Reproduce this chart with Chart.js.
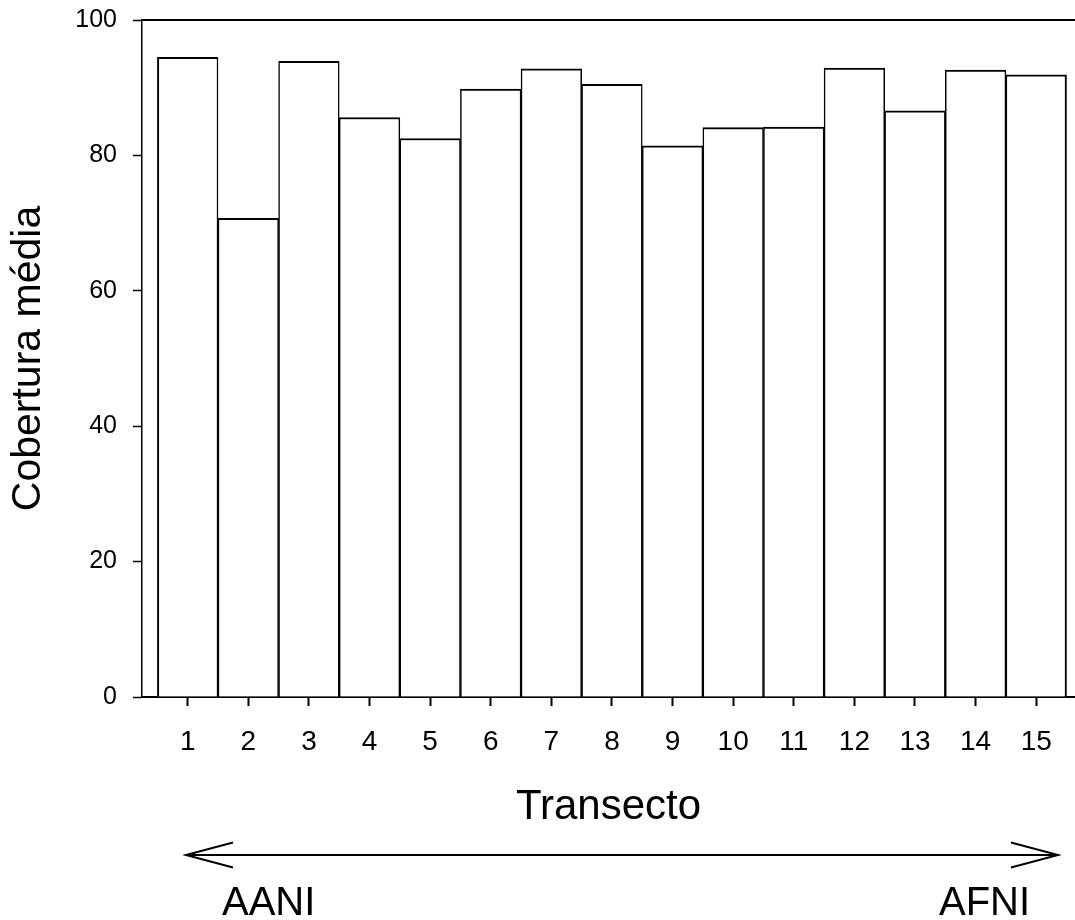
<!DOCTYPE html>
<html>
<head>
<meta charset="utf-8">
<script src="https://cdn.jsdelivr.net/npm/chart.js@4/dist/chart.umd.min.js"></script>
<style>
html,body{margin:0;padding:0;background:#fff;overflow:hidden;}
canvas{display:block;}
</style>
</head>
<body>
<canvas id="c" width="1075" height="920"></canvas>
<script>
// ---- data ----
const categories = [1, 2, 3, 4, 5, 6, 7, 8, 9, 10, 11, 12, 13, 14, 15];
const tickLabels = ['1','2','3','4','5','6','7','8','9','10','11','12','13','14','15'];
const coverValues = [94.5, 70.7, 93.9, 85.6, 82.5, 89.8, 92.8, 90.5, 81.4, 84.1, 84.2, 92.9, 86.6, 92.6, 91.9];
const yTickValues = [0, 20, 40, 60, 80, 100];
const xTitle = 'Transecto';
const yTitle = 'Cobertura média';
const gradientLabels = ['AANI', 'AFNI'];

const FONT = "'Liberation Sans', Arial, Helvetica, sans-serif";

const frameAndArrow = {
  id: 'frameAndArrow',
  afterDraw(chart) {
    const ctx = chart.ctx;
    const a = chart.chartArea;
    ctx.save();
    // top frame line
    ctx.strokeStyle = '#000';
    ctx.lineWidth = 2;
    ctx.beginPath();
    ctx.moveTo(a.left, a.top);
    ctx.lineTo(a.right, a.top);
    ctx.stroke();
    // gradient arrow
    const y = 855, x1 = 186, x2 = 1058, head = 47, hh = 12.5;
    ctx.lineWidth = 2;
    ctx.beginPath();
    ctx.moveTo(x1, y); ctx.lineTo(x2, y);
    ctx.moveTo(x1 + head, y - hh); ctx.lineTo(x1, y); ctx.lineTo(x1 + head, y + hh);
    ctx.moveTo(x2 - head, y - hh); ctx.lineTo(x2, y); ctx.lineTo(x2 - head, y + hh);
    ctx.stroke();
    ctx.fillStyle = '#000';
    ctx.font = '40px ' + FONT;
    ctx.textBaseline = 'alphabetic';
    ctx.textAlign = 'left';
    ctx.fillText(gradientLabels[0], 222, 915);
    ctx.fillText(gradientLabels[1], 939, 915);
    ctx.restore();
  }
};

new Chart(document.getElementById('c'), {
  type: 'bar',
  data: {
    datasets: [{
      data: categories.map((c, i) => ({ x: c, y: coverValues[i] })),
      backgroundColor: '#ffffff',
      borderColor: '#000000',
      borderWidth: (ctx) => ({
        top: 2,
        left: ctx.dataIndex === 0 ? 2 : 1.5,
        right: ctx.dataIndex === categories.length - 1 ? 2 : 1.5,
        bottom: 0
      }),
      borderSkipped: false,
      barPercentage: 1,
      categoryPercentage: 1
    }]
  },
  plugins: [frameAndArrow],
  options: {
    responsive: false,
    animation: false,
    devicePixelRatio: 1,
    layout: { padding: { left: 0, right: 0, top: 20, bottom: 87 } },
    plugins: { legend: { display: false }, tooltip: { enabled: false } },
    scales: {
      x: {
        type: 'linear',
        position: 'bottom',
        offset: false,
        min: 0.246,
        max: 15.64,
        z: 1,
        afterBuildTicks: (s) => { s.ticks = categories.map(v => ({ value: v })); },
        afterFit: (s) => { s.height = 136; s.paddingLeft = 0; s.paddingRight = 0; },
        ticks: {
          autoSkip: false,
          maxRotation: 0,
          padding: 19,
          color: '#000',
          font: { family: FONT, size: 28 },
          callback: (v) => tickLabels[categories.indexOf(v)]
        },
        grid: { offset: false, drawOnChartArea: false, drawTicks: true, tickLength: 9, tickColor: '#000', tickWidth: 2 },
        border: { display: true, color: '#000', width: 2 },
        title: { display: true, text: xTitle, color: '#000', font: { family: FONT, size: 42 }, padding: { top: 0, bottom: 0 } }
      },
      y: {
        min: 0,
        max: 100,
        z: 1,
        afterBuildTicks: (s) => { s.ticks = yTickValues.map(v => ({ value: v })); },
        afterFit: (s) => { s.width = 142; s.paddingTop = 0; s.paddingBottom = 0; },
        ticks: {
          padding: 16,
          color: '#000',
          font: { family: FONT, size: 25 }
        },
        grid: { drawOnChartArea: false, drawTicks: true, tickLength: 9, tickColor: '#000', tickWidth: 1.5 },
        border: { display: true, color: '#000', width: 1.5 },
        title: { display: true, text: yTitle, color: '#000', font: { family: FONT, size: 41 }, padding: { top: 4, bottom: 0 } }
      }
    }
  }
});
</script>
</body>
</html>
